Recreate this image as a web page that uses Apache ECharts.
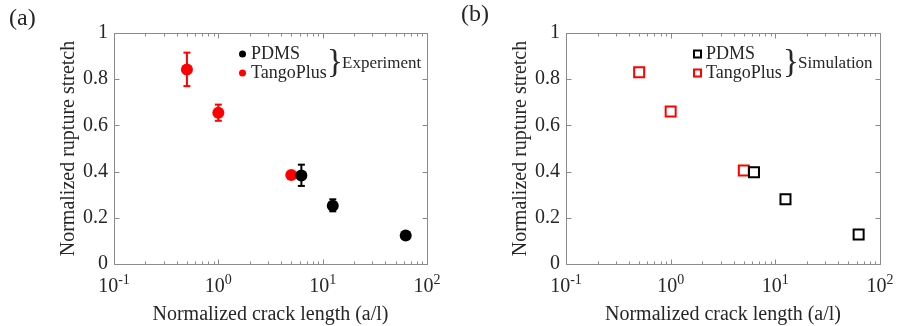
<!DOCTYPE html>
<html>
<head>
<meta charset="utf-8">
<script src="https://cdn.jsdelivr.net/npm/echarts@6/dist/echarts.min.js"></script>
<style>
  html, body { margin: 0; padding: 0; background: #fff; }
  #chart { width: 913px; height: 326px; }
</style>
</head>
<body>
<div id="chart"></div>
<script>
// crack length (a/l) for each material
var tangoX = [0.5, 1, 5];
var pdmsX = [6.25, 12.5, 62.5];

// (a) experiment: mean + error bar limits
var expTango = [0.842, 0.655, 0.385];
var expTangoLow = [0.770, 0.620, 0.385];
var expTangoHigh = [0.915, 0.690, 0.385];
var expPdms = [0.383, 0.252, 0.123];
var expPdmsLow = [0.338, 0.228, 0.123];
var expPdmsHigh = [0.430, 0.280, 0.123];

// (b) simulation
var simTango = [0.830, 0.660, 0.405];
var simPdms = [0.397, 0.280, 0.128];

// axis ticks
var xMajor = [0.1, 1, 10, 100];
var xMinor = [0.2, 0.3, 0.4, 0.5, 0.6, 0.7, 0.8, 0.9, 2, 3, 4, 5, 6, 7, 8, 9, 20, 30, 40, 50, 60, 70, 80, 90];
var yTicks = [0, 0.2, 0.4, 0.6, 0.8, 1];

var FONT = '"Liberation Serif", "DejaVu Serif", serif';
var AX = '#8a8a8a';
var TXT = '#262626';

function pairs(xs, ys) {
  return xs.map(function (x, i) { return [x, ys[i]]; });
}

function errData(xs, lo, hi) {
  return xs.map(function (x, i) { return [x, lo[i], hi[i]]; });
}

function errSeries(idx, data, color) {
  return {
    type: 'custom',
    xAxisIndex: idx,
    yAxisIndex: idx,
    z: 3,
    silent: true,
    data: data,
    renderItem: function (params, api) {
      var lo = api.coord([api.value(0), api.value(1)]);
      var hi = api.coord([api.value(0), api.value(2)]);
      if (Math.abs(hi[1] - lo[1]) < 1) return null;
      var w = 3.5;
      var st = { stroke: color, lineWidth: 2 };
      return {
        type: 'group',
        children: [
          { type: 'line', shape: { x1: lo[0], y1: lo[1], x2: hi[0], y2: hi[1] }, style: st },
          { type: 'line', shape: { x1: lo[0] - w, y1: lo[1], x2: lo[0] + w, y2: lo[1] }, style: st },
          { type: 'line', shape: { x1: hi[0] - w, y1: hi[1], x2: hi[0] + w, y2: hi[1] }, style: st }
        ]
      };
    }
  };
}

// MATLAB-like box: top/right lines plus inward ticks on all sides
function boxSeries(idx) {
  return {
    type: 'custom',
    xAxisIndex: idx,
    yAxisIndex: idx,
    silent: true,
    clip: false,
    z: 1,
    data: [[0]],
    renderItem: function (params, api) {
      var st = { stroke: AX, lineWidth: 1 };
      var kids = [];
      function seg(a, b) {
        kids.push({ type: 'line', shape: { x1: Math.round(a[0]) + 0.5, y1: Math.round(a[1]) + 0.5, x2: Math.round(b[0]) + 0.5, y2: Math.round(b[1]) + 0.5 }, style: st });
      }
      var bl = api.coord([0.1, 0]), br = api.coord([100, 0]);
      var tl = api.coord([0.1, 1]), tr = api.coord([100, 1]);
      seg(bl, br); seg(tl, tr); seg(bl, tl); seg(br, tr);
      xMajor.forEach(function (v) {
        var b = api.coord([v, 0]), t = api.coord([v, 1]);
        seg(b, [b[0], b[1] - 5]); seg(t, [t[0], t[1] + 5]);
      });
      xMinor.forEach(function (v) {
        var b = api.coord([v, 0]), t = api.coord([v, 1]);
        seg(b, [b[0], b[1] - 3]); seg(t, [t[0], t[1] + 3]);
      });
      yTicks.forEach(function (v) {
        var l = api.coord([0.1, v]), r = api.coord([100, v]);
        seg(l, [l[0] + 5, l[1]]); seg(r, [r[0] - 5, r[1]]);
      });
      return { type: 'group', children: kids };
    }
  };
}

function xAxis(idx) {
  return {
    type: 'log',
    logBase: 10,
    min: 0.1,
    max: 100,
    gridIndex: idx,
    position: 'bottom',
    splitLine: { show: false },
    axisLine: { show: false },
    axisTick: { show: false },
    name: 'Normalized crack length (a/l)',
    nameLocation: 'middle',
    nameGap: 41,
    nameTextStyle: { fontFamily: FONT, fontSize: 20, color: TXT },
    axisLabel: {
      margin: 9,
      formatter: function (v) {
        return '{b|10}{s|' + Math.round(Math.log10(v)) + '}';
      },
      rich: {
        b: { fontFamily: FONT, fontSize: 20, color: TXT, lineHeight: 24, verticalAlign: 'bottom' },
        s: { fontFamily: FONT, fontSize: 14, color: TXT, lineHeight: 24, verticalAlign: 'top', padding: [0, 0, 9, 0] }
      }
    }
  };
}

function yAxis(idx) {
  return {
    type: 'value',
    min: 0,
    max: 1,
    interval: 0.2,
    gridIndex: idx,
    position: 'left',
    splitLine: { show: false },
    axisLine: { show: false },
    axisTick: { show: false },
    name: 'Normalized rupture stretch',
    nameLocation: 'middle',
    nameGap: 31,
    nameTextStyle: { fontFamily: FONT, fontSize: 20, color: TXT },
    axisLabel: {
      margin: 6,
      fontFamily: FONT,
      fontSize: 20,
      color: TXT,
      formatter: function (v) { return String(+v.toFixed(1)); }
    }
  };
}

function legendFor(names, left) {
  return {
    data: names,
    orient: 'vertical',
    left: left,
    top: 40,
    itemWidth: 7,
    itemHeight: 7,
    itemGap: 1,
    selectedMode: false,
    formatter: function (n) { return n.split('|')[0]; },
    textStyle: { fontFamily: FONT, fontSize: 18, color: TXT }
  };
}

var chart = echarts.init(document.getElementById('chart'));

var option = {
  animation: false,
  backgroundColor: '#fff',
  grid: [
    { left: 114, top: 33, width: 313, height: 231, outerBoundsMode: 'none', containLabel: false },
    { left: 566, top: 33, width: 314, height: 231, outerBoundsMode: 'none', containLabel: false }
  ],
  xAxis: [xAxis(0), xAxis(1)],
  yAxis: [yAxis(0), yAxis(1)],
  legend: [
    legendFor(['PDMS|a', 'TangoPlus|a'], 234),
    legendFor(['PDMS|b', 'TangoPlus|b'], 688)
  ],
  graphic: [
    { type: 'text', left: 9, top: 7, style: { text: '(a)', fontFamily: FONT, fontSize: 24, fill: TXT } },
    { type: 'text', left: 461, top: 3, style: { text: '(b)', fontFamily: FONT, fontSize: 24, fill: TXT } },
    { type: 'text', left: 327, top: 47, style: { text: '}', fontFamily: FONT, fontSize: 33, fill: TXT } },
    { type: 'text', left: 342, top: 55, style: { text: 'Experiment', fontFamily: FONT, fontSize: 17, fill: TXT } },
    { type: 'text', left: 783, top: 47, style: { text: '}', fontFamily: FONT, fontSize: 33, fill: TXT } },
    { type: 'text', left: 798, top: 55, style: { text: 'Simulation', fontFamily: FONT, fontSize: 17, fill: TXT } }
  ],
  series: [
    boxSeries(0),
    boxSeries(1),
    errSeries(0, errData(tangoX, expTangoLow, expTangoHigh), '#ff0000'),
    {
      name: 'TangoPlus|a',
      type: 'scatter',
      xAxisIndex: 0,
      yAxisIndex: 0,
      symbol: 'circle',
      symbolSize: 12,
      itemStyle: { color: '#ff0000', opacity: 1 },
      z: 4,
      data: pairs(tangoX, expTango)
    },
    errSeries(0, errData(pdmsX, expPdmsLow, expPdmsHigh), '#000'),
    {
      name: 'PDMS|a',
      type: 'scatter',
      xAxisIndex: 0,
      yAxisIndex: 0,
      symbol: 'circle',
      symbolSize: 12,
      itemStyle: { color: '#000', opacity: 1 },
      z: 5,
      data: pairs(pdmsX, expPdms)
    },
    {
      name: 'TangoPlus|b',
      type: 'scatter',
      xAxisIndex: 1,
      yAxisIndex: 1,
      symbol: 'rect',
      symbolSize: 10,
      itemStyle: { color: '#fff', borderColor: '#ff0000', borderWidth: 2, opacity: 1 },
      data: pairs(tangoX, simTango)
    },
    {
      name: 'PDMS|b',
      type: 'scatter',
      xAxisIndex: 1,
      yAxisIndex: 1,
      symbol: 'rect',
      symbolSize: 10,
      itemStyle: { color: '#fff', borderColor: '#000', borderWidth: 2, opacity: 1 },
      data: pairs(pdmsX, simPdms)
    }
  ]
};

chart.setOption(option);
</script>
</body>
</html>
